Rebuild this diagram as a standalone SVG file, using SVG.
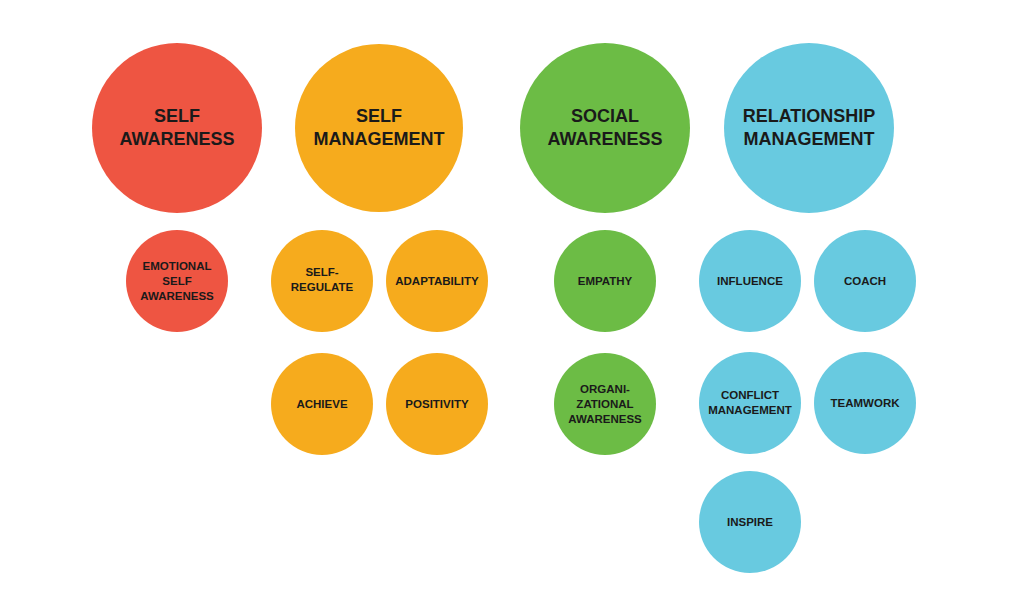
<svg xmlns="http://www.w3.org/2000/svg" width="1024" height="602" viewBox="0 0 1024 602">
<style>
text{font-family:"Liberation Sans",Arial,sans-serif;font-weight:bold;fill:#1a1a1a;text-anchor:middle}
.b{font-size:18px}.s{font-size:11.5px}
.r{fill:#EE5542}.o{fill:#F6AB1D}.g{fill:#6CBC45}.c{fill:#68CAE0}
</style>
<rect width="1024" height="602" fill="#fff"/>
<g id="self-awareness"><circle class="r" cx="177" cy="128" r="85"/><text class="b" x="177" y="122">SELF</text><text class="b" x="177" y="145">AWARENESS</text></g>
<g id="self-management"><circle class="o" cx="379" cy="128" r="84"/><text class="b" x="379" y="122">SELF</text><text class="b" x="379" y="145">MANAGEMENT</text></g>
<g id="social-awareness"><circle class="g" cx="605" cy="128" r="85"/><text class="b" x="605" y="122">SOCIAL</text><text class="b" x="605" y="145">AWARENESS</text></g>
<g id="relationship-management"><circle class="c" cx="809" cy="128" r="85"/><text class="b" x="809" y="122">RELATIONSHIP</text><text class="b" x="809" y="145">MANAGEMENT</text></g>
<g id="emotional-self-awareness"><circle class="r" cx="177" cy="281" r="51"/><text class="s" x="177" y="270">EMOTIONAL</text><text class="s" x="177" y="285">SELF</text><text class="s" x="177" y="300">AWARENESS</text></g>
<g id="self-regulate"><circle class="o" cx="322" cy="281" r="51"/><text class="s" x="322" y="276">SELF-</text><text class="s" x="322" y="291">REGULATE</text></g>
<g id="adaptability"><circle class="o" cx="437" cy="281" r="51"/><text class="s" x="437" y="285">ADAPTABILITY</text></g>
<g id="achieve"><circle class="o" cx="322" cy="404" r="51"/><text class="s" x="322" y="408">ACHIEVE</text></g>
<g id="positivity"><circle class="o" cx="437" cy="404" r="51"/><text class="s" x="437" y="408">POSITIVITY</text></g>
<g id="empathy"><circle class="g" cx="605" cy="281" r="51"/><text class="s" x="605" y="285">EMPATHY</text></g>
<g id="organizational-awareness"><circle class="g" cx="605" cy="404" r="51"/><text class="s" x="605" y="393">ORGANI-</text><text class="s" x="605" y="408">ZATIONAL</text><text class="s" x="605" y="423">AWARENESS</text></g>
<g id="influence"><circle class="c" cx="750" cy="281" r="51"/><text class="s" x="750" y="285">INFLUENCE</text></g>
<g id="coach"><circle class="c" cx="865" cy="281" r="51"/><text class="s" x="865" y="285">COACH</text></g>
<g id="conflict-management"><circle class="c" cx="750" cy="403" r="51"/><text class="s" x="750" y="399">CONFLICT</text><text class="s" x="750" y="414">MANAGEMENT</text></g>
<g id="teamwork"><circle class="c" cx="865" cy="403" r="51"/><text class="s" x="865" y="407">TEAMWORK</text></g>
<g id="inspire"><circle class="c" cx="750" cy="522" r="51"/><text class="s" x="750" y="526">INSPIRE</text></g>
<g id="connectors"/>
</svg>
